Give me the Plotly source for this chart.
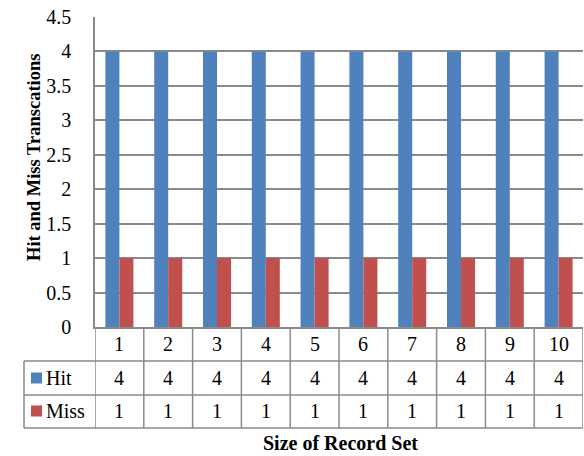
import plotly.graph_objects as go

categories = ["1", "2", "3", "4", "5", "6", "7", "8", "9", "10"]
hit = [4, 4, 4, 4, 4, 4, 4, 4, 4, 4]
miss = [1, 1, 1, 1, 1, 1, 1, 1, 1, 1]
series_names = ["Hit", "Miss"]
series_colors = ["#4F81BD", "#C0504D"]
y_ticks = [0, 0.5, 1, 1.5, 2, 2.5, 3, 3.5, 4, 4.5]
y_title = "Hit and Miss Transcations"
x_title = "Size of Record Set"

FONT = "Liberation Serif"
GRID = "#8a8a8a"
W, H = 584, 456
L, R, T, B = 95, 1, 17, 129
PW, PH = W - L - R, H - T - B


def px_x(px):
    return (px - L) / PW


def px_y(py):
    return (H - B - py) / PH


fig = go.Figure()
for name, vals, col in zip(series_names, [hit, miss], series_colors):
    fig.add_trace(go.Bar(x=categories, y=vals, name=name, marker_color=col,
                         marker_line_width=0, showlegend=False))

shapes = []
line = dict(color=GRID, width=1.5)
# horizontal table lines
for py in [361, 395, 428]:
    shapes.append(dict(type="line", xref="paper", yref="paper",
                       x0=px_x(24), x1=1, y0=px_y(py), y1=px_y(py), line=line))
# left border of legend column
shapes.append(dict(type="line", xref="paper", yref="paper",
                   x0=px_x(24), x1=px_x(24), y0=px_y(361), y1=px_y(428), line=line))
# vertical lines at category boundaries
n = len(categories)
for i in range(n + 1):
    shapes.append(dict(type="line", xref="x", yref="paper",
                       x0=i - 0.5, x1=i - 0.5, y0=0, y1=px_y(428), line=line))

annotations = []
rows = [(categories, px_y(344)), ([str(v) for v in hit], px_y(378)),
        ([str(v) for v in miss], px_y(411))]
for texts, yy in rows:
    for i, t in enumerate(texts):
        annotations.append(dict(x=i, y=yy, xref="x", yref="paper", text=t,
                                xanchor="center", yanchor="middle",
                                showarrow=False, font=dict(family=FONT, size=20, color="black")))

# legend keys in table
for name, col, py in zip(series_names, series_colors, [378, 411]):
    shapes.append(dict(type="rect", xref="paper", yref="paper",
                       x0=px_x(31), x1=px_x(42), y0=px_y(py - 5.5), y1=px_y(py + 5.5),
                       fillcolor=col, line=dict(width=0)))
    annotations.append(dict(x=px_x(44), y=px_y(py), xref="paper", yref="paper", text=name,
                            xanchor="left", yanchor="middle", showarrow=False,
                            font=dict(family=FONT, size=20, color="black")))

annotations.append(dict(x=px_x(34), y=px_y(158), xref="paper", yref="paper",
                        text="<b>" + y_title + "</b>", textangle=-90, showarrow=False,
                        xanchor="center", yanchor="middle",
                        font=dict(family=FONT, size=18.5, color="black")))
annotations.append(dict(x=px_x(340), y=px_y(443), xref="paper", yref="paper",
                        text="<b>" + x_title + "</b>", showarrow=False,
                        xanchor="center", yanchor="middle",
                        font=dict(family=FONT, size=20, color="black")))

fig.update_layout(
    width=W, height=H,
    margin=dict(l=L, r=R, t=T, b=B, autoexpand=False),
    paper_bgcolor="white", plot_bgcolor="white",
    barmode="group", bargap=0.426, bargroupgap=0,
    shapes=shapes, annotations=annotations,
    font=dict(family=FONT, size=18, color="black"),
)
fig.update_xaxes(type="category", range=[-0.5, n - 0.5], showticklabels=False,
                 showgrid=False, showline=True, linecolor=GRID, linewidth=1.5,
                 zeroline=False, ticks="", automargin=False)
fig.update_yaxes(range=[0, 4.5], tickvals=y_ticks, ticktext=[f"{v:g}" for v in y_ticks],
                 showgrid=True, gridcolor=GRID, gridwidth=1.5, showline=True,
                 linecolor=GRID, linewidth=1.5, zeroline=False, ticks="", automargin=False,
                 ticklabelstandoff=18, tickfont=dict(family=FONT, size=20, color="black"))

fig.write_html("out.html", config={"displayModeBar": False},
               post_script="document.body.style.margin='0';document.body.style.padding='0';")
